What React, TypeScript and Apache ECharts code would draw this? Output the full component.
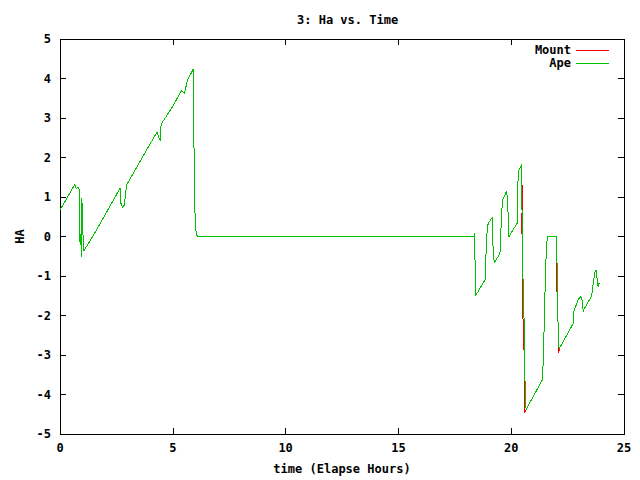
import React, { useEffect, useRef } from "react";
import * as echarts from "echarts";

const chartTitle = "3: Ha vs. Time";
const xAxisName = "time (Elapse Hours)";
const yAxisName = "HA";
const seriesNames = ["Mount", "Ape"];
const seriesColors = ["#ff0000", "#00c000"];
const xRange = [0, 25, 5];
const yRange = [-5, 5, 1];

type P = [number, number];

// Portion common to both series (Mount hidden under Ape here)
const sharedHead: P[] = [
  [0, 0.67], [0.66, 1.32], [0.72, 1.2], [0.8, 1.25], [0.86, 1.18], [0.88, -0.15],
  [0.9, 0.05], [0.93, -0.2], [0.95, -0.52], [0.97, 0.98], [1.0, 0.3], [1.03, -0.1],
  [1.06, -0.36], [1.08, -0.37], [1.5, 0.05], [2.0, 0.55], [2.66, 1.22], [2.7, 0.84],
  [2.78, 0.74], [2.85, 0.79], [2.95, 1.3], [3.5, 1.85], [4.0, 2.35], [4.31, 2.65],
  [4.38, 2.5], [4.45, 2.42], [4.48, 2.84], [5.0, 3.3], [5.39, 3.7], [5.51, 3.62],
  [5.66, 3.97], [5.91, 4.24], [5.93, 3.26], [5.95, 1.31], [6.0, 0.26], [6.05, 0.05],
  [6.1, 0], [18.35, 0], [18.37, 0.1], [18.4, -0.69], [18.42, -1.5], [18.84, -1.1],
  [18.86, -0.74], [18.94, 0.25], [19.0, 0.35], [19.16, 0.48], [19.2, -0.37],
  [19.25, -0.66], [19.5, -0.44], [19.53, -0.08], [19.57, 0.56], [19.62, 0.92],
  [19.8, 1.15], [19.84, 0.9], [19.9, 0], [20.27, 0.34], [20.28, 1.21], [20.33, 1.67],
  [20.46, 1.82],
];
const apeDropA: P[] = [
  [20.49, 1.82], [20.5, -0.54], [20.57, -2.1], [20.61, -3.63], [20.66, -4.38],
];
const mountDropA: P[] = [
  [20.49, 1.0], [20.47, 0.26], [20.51, -0.54], [20.53, -2.87], [20.58, -2.87],
  [20.59, -4.47], [20.66, -4.38],
];
const sharedMid: P[] = [
  [21.38, -3.63], [21.42, -3.17], [21.46, -2.29], [21.5, -1.37], [21.55, -0.46],
  [21.6, 0], [22.0, 0],
];
const apeDropB: P[] = [
  [22.01, -0.6], [22.05, -0.72], [22.07, -2.04], [22.1, -2.7], [22.13, -2.84],
];
const mountDropB: P[] = [
  [22.0, -0.72], [22.06, -2.04], [22.08, -2.2], [22.11, -2.96], [22.13, -2.84],
];
const sharedTail: P[] = [
  [22.75, -2.2], [22.77, -1.92], [22.87, -1.75], [22.98, -1.58], [23.09, -1.52],
  [23.14, -1.6], [23.2, -1.92], [23.22, -1.85], [23.57, -1.5], [23.62, -1.25],
  [23.66, -1.12], [23.7, -0.91], [23.76, -0.85], [23.79, -1.0], [23.83, -1.17],
  [23.85, -1.27], [23.86, -1.18], [23.92, -1.18],
];

const mountData: P[] = [...sharedHead, ...mountDropA, ...sharedMid, ...mountDropB, ...sharedTail];
const apeData: P[] = [...sharedHead, ...apeDropA, ...sharedMid, ...apeDropB, ...sharedTail];

const FONT = "'DejaVu Sans Mono', monospace";
const txt = { color: "#000", fontFamily: FONT, fontSize: 12, fontWeight: "bold" as const };

export default function App() {
  const ref = useRef<HTMLDivElement>(null);
  useEffect(() => {
    if (!ref.current) return;
    const chart = echarts.init(ref.current, undefined, { renderer: "svg" });
    const tick = { inside: true, length: 6, lineStyle: { color: "#000", width: 1 } };
    const line = { show: true, onZero: false, lineStyle: { color: "#000", width: 1 } };
    const baseX = {
      type: "value" as const,
      min: xRange[0],
      max: xRange[1],
      interval: xRange[2],
      splitLine: { show: false },
      axisLine: line,
      axisTick: tick,
    };
    const baseY = {
      type: "value" as const,
      min: yRange[0],
      max: yRange[1],
      interval: yRange[2],
      splitLine: { show: false },
      axisLine: line,
      axisTick: tick,
    };
    chart.setOption({
      animation: false,
      backgroundColor: "#fff",
      title: {
        text: chartTitle,
        left: 292,
        top: 9,
        textStyle: { ...txt },
      },
      legend: seriesNames.map((n, i) => ({
        data: [n],
        orient: "vertical",
        right: 31,
        top: 44 + i * 13,
        align: "right",
        icon: "rect",
        itemWidth: 33,
        itemHeight: 1,
        selectedMode: false,
        padding: 0,
        textStyle: { ...txt },
      })),
      grid: { left: 60, right: 16, top: 39, bottom: 42, show: true, borderColor: "#000", borderWidth: 1 },
      xAxis: [
        {
          ...baseX,
          position: "bottom",
          name: xAxisName,
          nameLocation: "middle",
          nameGap: 29,
          nameTextStyle: { ...txt },
          axisLabel: { ...txt, margin: 8 },
        },
        { ...baseX, position: "top", axisLabel: { show: false } },
      ],
      yAxis: [
        {
          ...baseY,
          position: "left",
          name: yAxisName,
          nameLocation: "middle",
          nameRotate: 90,
          nameGap: 21,
          nameTextStyle: { ...txt },
          axisLabel: { ...txt, margin: 9 },
        },
        { ...baseY, position: "right", axisLabel: { show: false } },
      ],
      series: [
        {
          name: seriesNames[0],
          type: "line",
          data: mountData,
          symbol: "none",
          lineStyle: { color: seriesColors[0], width: 1 },
          itemStyle: { color: seriesColors[0] },
        },
        {
          name: seriesNames[1],
          type: "line",
          data: apeData,
          symbol: "none",
          lineStyle: { color: seriesColors[1], width: 1 },
          itemStyle: { color: seriesColors[1] },
        },
      ],
    });
    return () => chart.dispose();
  }, []);
  return (
    <>
      <style>{`#chart-host svg path { shape-rendering: crispEdges; }`}</style>
      <div
        id="chart-host"
        ref={ref}
        style={{ position: "absolute", left: 0, top: 0, width: 640, height: 480 }}
      />
    </>
  );
}
